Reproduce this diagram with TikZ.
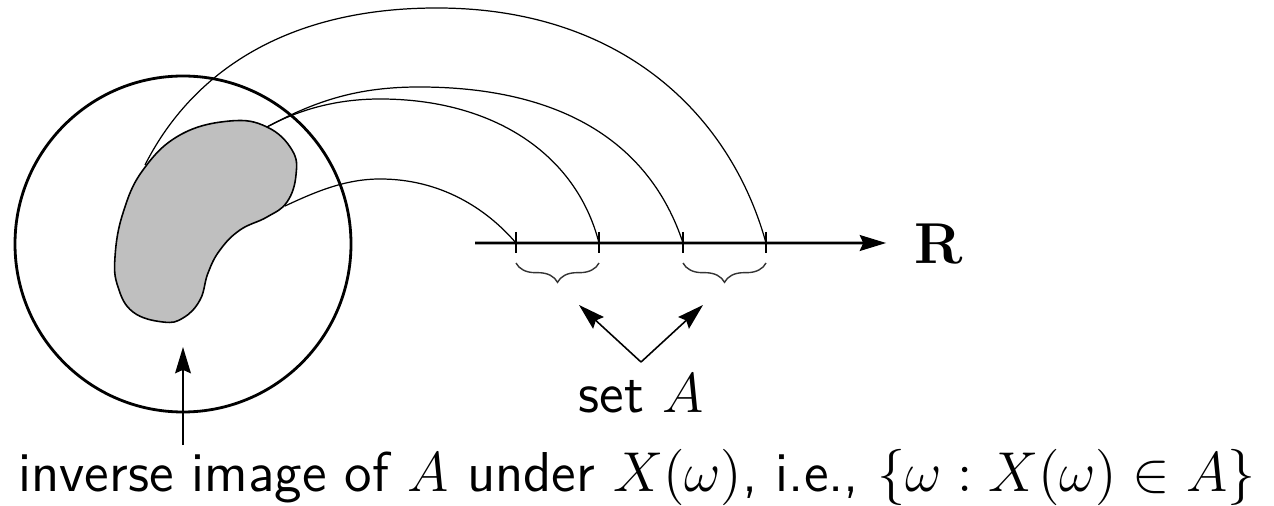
\documentclass[tikz,border=0pt]{standalone}
\usepackage{amsmath}
\usepackage{xcolor}
\definecolor{ink}{HTML}{000000}
\definecolor{shade}{HTML}{BFBFBF}
\definecolor{brc}{HTML}{333333}
\usepackage{tikz}
\usetikzlibrary{positioning,arrows.meta,calc,decorations.pathreplacing}
\tikzset{
  >={Stealth[length=7.5pt,width=4.5pt,inset=1pt]},
  space/.style={draw=ink,line width=0.8pt},
  blob/.style={draw=ink,fill=shade,line width=0.45pt},
  axisline/.style={->,draw=ink,line width=0.75pt},
  tick/.style={draw=ink,line width=0.4pt},
  mapto/.style={draw=ink,line width=0.35pt},
  pick/.style={->,draw=ink,line width=0.45pt},
  brace/.style={decorate,decoration={brace,mirror,amplitude=5.5pt},draw=brc,line width=0.4pt},
  lbl/.style={font=\Large\sffamily,scale=1.11,inner sep=1pt},
}
\begin{document}
\begin{tikzpicture}[x=1cm,y=1cm]
  \useasboundingbox (0,0) rectangle (12.74,-5.06);
  % sample space and the event
  \draw[space] (1.83,-2.44) circle (1.68);
  \draw[blob] plot[smooth cycle,tension=0.7] coordinates {
    (2.30,-1.21) (2.67,-1.27) (2.92,-1.50) (2.96,-1.75) (2.87,-2.02) (2.67,-2.17)
    (2.40,-2.30) (2.20,-2.50) (2.08,-2.73) (2.00,-3.00) (1.83,-3.18) (1.63,-3.22)
    (1.33,-3.12) (1.18,-2.87) (1.15,-2.57) (1.23,-2.13) (1.43,-1.70) (1.80,-1.35)};
  \coordinate (b1) at (2.85,-2.06);
  \coordinate (b2) at (2.67,-1.27);
  \coordinate (b4) at (1.45,-1.65);
  % real line
  \node[font=\LARGE,scale=0.95,inner sep=0pt] (R) at (9.39,-2.44) {$\mathbf{R}$};
  \coordinate (a0) at (4.75,-2.43);
  \draw[axisline] (a0) -- ($(R.west)+(-0.28,0.01)$);
  \foreach \n/\x in {1/5.16,2/5.99,3/6.83,4/7.66}{
    \coordinate (t\n) at (\x,-2.43);
    \draw[tick] (\x,-2.32) -- (\x,-2.53);
  }
  % images of the event
  \draw[mapto] (b4) .. controls (1.88,-0.80) and (2.77,-0.08) .. (4.37,-0.08)
    .. controls (6.20,-0.08) and (7.30,-1.13) .. (t4);
  \draw[mapto] (b2) .. controls (3.17,-1.00) and (3.59,-0.87) .. (4.19,-0.87)
    .. controls (5.62,-0.87) and (6.50,-1.43) .. (t3);
  \draw[mapto] (b2) .. controls (3.02,-1.08) and (3.40,-0.99) .. (3.80,-0.99)
    .. controls (4.92,-0.99) and (5.76,-1.53) .. (t2);
  \draw[mapto] (b1) .. controls (3.15,-1.92) and (3.45,-1.79) .. (3.80,-1.79)
    .. controls (4.40,-1.79) and (4.86,-2.08) .. (t1);
  % set A
  \draw[brace] (5.16,-2.63) -- (5.99,-2.63);
  \draw[brace] (6.83,-2.63) -- (7.66,-2.63);
  \coordinate (s1) at (5.79,-3.05);
  \coordinate (s2) at (7.03,-3.05);
  \node[lbl,inner sep=3pt] (seta) at (6.41,-3.94) {set $A$};
  \draw[pick] (seta.north) -- (s1);
  \draw[pick] (seta.north) -- (s2);
  % inverse image
  \node[lbl,anchor=base] (inv) at (6.37,-4.92)
    {inverse image of $A$ under $X(\omega)$, i.e., $\{\omega : X(\omega)\in A\}$};
  \coordinate (ia) at (1.83,-3.47);
  \draw[pick] (inv.north -| ia) -- (ia);
\end{tikzpicture}
\end{document}
